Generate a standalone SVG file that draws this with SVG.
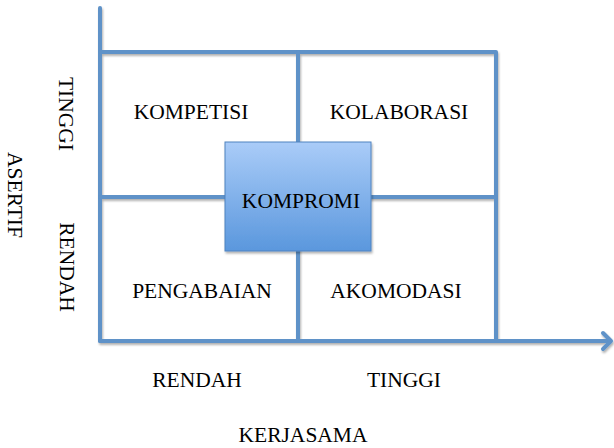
<svg xmlns="http://www.w3.org/2000/svg" width="614" height="448" viewBox="0 0 614 448">
  <defs>
    <style>
      .ln { fill: none; stroke: #5E92C8; stroke-width: 4; stroke-linecap: round; stroke-linejoin: round; }
      .t { font-family: "Liberation Serif", "DejaVu Serif", serif; font-size: 21.5px; fill: #000; text-anchor: middle; }
    </style>
    <filter id="sh" x="-10%" y="-10%" width="130%" height="130%">
      <feDropShadow dx="1" dy="2" stdDeviation="1.2" flood-color="#000" flood-opacity="0.3"/>
    </filter>
    <linearGradient id="g" x1="0" y1="0" x2="0" y2="1">
      <stop offset="0" stop-color="#AACCF8"/>
      <stop offset="1" stop-color="#5A97DD"/>
    </linearGradient>
  </defs>
  <rect width="614" height="448" fill="#fff"/>
  <g id="connectors" filter="url(#sh)">
    <path class="ln" d="M100 8 V341"/>
    <path class="ln" d="M100 52 H496 V341"/>
    <path class="ln" d="M100 197 H496"/>
    <path class="ln" d="M298 52 V341"/>
    <path class="ln" d="M100 341 H610"/>
    <path class="ln" d="M603 333 L611 341 L603 349"/>
  </g>
  <g id="kompetisi"><text class="t" x="191" y="119">KOMPETISI</text></g>
  <g id="kolaborasi"><text class="t" x="399" y="119">KOLABORASI</text></g>
  <g id="pengabaian"><text class="t" x="202" y="298">PENGABAIAN</text></g>
  <g id="akomodasi"><text class="t" x="396" y="298">AKOMODASI</text></g>
  <g id="kompromi">
    <rect x="225" y="142" width="146" height="109" fill="url(#g)" stroke="#4F83C0" stroke-width="1" filter="url(#sh)"/>
    <text class="t" x="301" y="208">KOMPROMI</text>
  </g>
  <g id="axis-x-labels">
    <text class="t" x="197" y="387">RENDAH</text>
    <text class="t" x="404" y="387">TINGGI</text>
    <text class="t" x="303" y="442">KERJASAMA</text>
  </g>
  <g id="axis-y-labels">
    <text class="t" transform="translate(59 114) rotate(90)">TINGGI</text>
    <text class="t" transform="translate(60 267) rotate(90)">RENDAH</text>
    <text class="t" transform="translate(8 195) rotate(90)">ASERTIF</text>
  </g>
</svg>
